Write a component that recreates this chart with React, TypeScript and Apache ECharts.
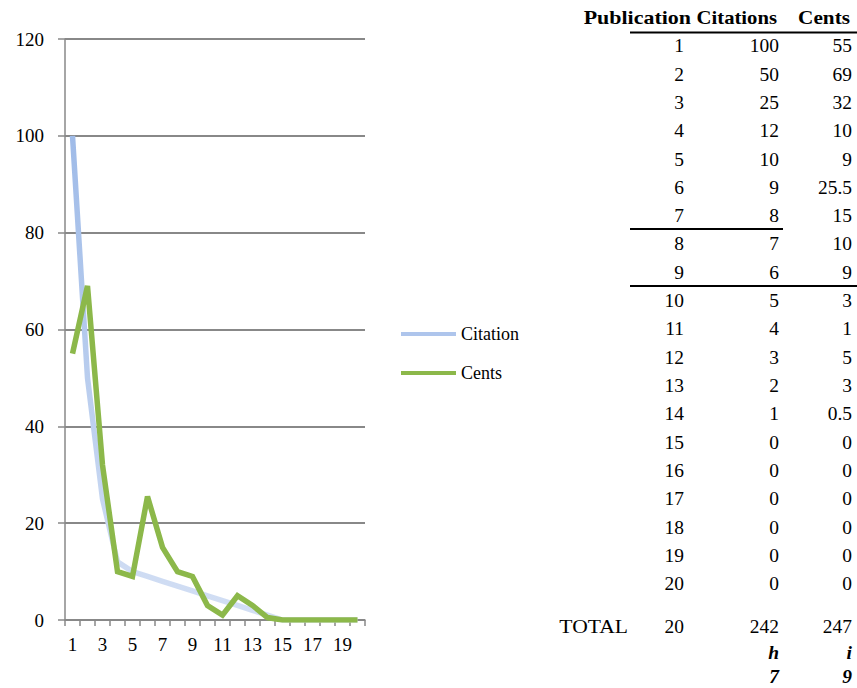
import React, { useEffect, useRef } from "react";
import * as echarts from "echarts";

const publications = ["1","2","3","4","5","6","7","8","9","10","11","12","13","14","15","16","17","18","19","20"];
const citations = [100, 50, 25, 12, 10, 9, 8, 7, 6, 5, 4, 3, 2, 1, 0, 0, 0, 0, 0, 0];
const cents = [55, 69, 32, 10, 9, 25.5, 15, 10, 9, 3, 1, 5, 3, 0.5, 0, 0, 0, 0, 0, 0];
const tableHeaders = ["Publication", "Citations", "Cents"];
const totals = ["TOTAL", "20", "242", "247"];
const hiLetters = ["h", "i"];
const hiValues = ["7", "9"];

const SERIF = "'Liberation Serif', 'Times New Roman', serif";

export default function App() {
  const ref = useRef<HTMLDivElement>(null);
  useEffect(() => {
    if (!ref.current) return;
    const chart = echarts.init(ref.current, null, { renderer: "svg" });

    const colRight = [684, 779, 852];
    const headerRight = [691, 777, 850];
    const headerScale = [1.22, 1.15, 1.18];
    const rowY0 = 46;
    const rowStep = 28.32;
    const NUM_SCALE = 1.08;
    const plain = "normal 18px " + SERIF;
    const bold = "bold 18px " + SERIF;
    const boldItalic = "italic bold 18px " + SERIF;
    const txt = (text: string, x: number, y: number, sx: number, font: string) => ({
      type: "text", x, y, scaleX: sx,
      style: { text, font, fill: "#000", align: "right", verticalAlign: "middle" },
    });
    const graphics: any[] = [];
    tableHeaders.forEach((h, i) => graphics.push(txt(h, headerRight[i], 18, headerScale[i], bold)));
    publications.forEach((p, r) => {
      const y = rowY0 + r * rowStep;
      const vals = [p, String(citations[r]), String(cents[r])];
      vals.forEach((v, c) => graphics.push(txt(v, colRight[c], y, NUM_SCALE, plain)));
    });
    graphics.push(txt(totals[0], 628, 627, 1.2, plain));
    totals.slice(1).forEach((t, c) => graphics.push(txt(t, colRight[c], 627, NUM_SCALE, plain)));
    hiLetters.forEach((t, c) => graphics.push(txt(t, colRight[c + 1], 653, NUM_SCALE, boldItalic)));
    hiValues.forEach((t, c) => graphics.push(txt(t, colRight[c + 1], 677, NUM_SCALE, boldItalic)));
    // table rules
    graphics.push({ type: "line", shape: { x1: 630, y1: 32.5, x2: 857, y2: 32.5 }, style: { stroke: "#000", lineWidth: 2 } });
    graphics.push({ type: "line", shape: { x1: 630, y1: 229, x2: 783, y2: 229 }, style: { stroke: "#000", lineWidth: 2 } });
    graphics.push({ type: "line", shape: { x1: 630, y1: 286, x2: 857, y2: 286 }, style: { stroke: "#000", lineWidth: 2 } });

    chart.setOption({
      animation: false,
      backgroundColor: "#fff",
      textStyle: { fontFamily: SERIF },
      grid: { left: 65, right: 492, top: 39, bottom: 68 },
      legend: {
        orient: "vertical",
        left: 396,
        top: 320,
        icon: "rect",
        itemWidth: 55,
        itemHeight: 4,
        itemGap: 21,
        textStyle: { fontFamily: SERIF, fontSize: 18, color: "#000" },
        data: ["Citation", "Cents"],
      },
      xAxis: {
        type: "category",
        data: publications,
        boundaryGap: true,
        axisLine: { lineStyle: { color: "#888", width: 1.5 } },
        axisTick: { show: true, interval: 0, length: 6, lineStyle: { color: "#888", width: 1.5 } },
        axisLabel: { interval: 1, color: "#000", fontSize: 19, fontFamily: SERIF, margin: 15 },
      },
      yAxis: {
        type: "value",
        min: 0,
        max: 120,
        interval: 20,
        axisLine: { show: true, lineStyle: { color: "#888", width: 1.5 } },
        axisTick: { show: true, length: 7, lineStyle: { color: "#888", width: 1.5 } },
        axisLabel: { color: "#000", fontSize: 19, fontFamily: SERIF, margin: 21 },
        splitLine: { show: true, lineStyle: { color: "#888", width: 2 } },
      },
      series: [
        {
          name: "Citation",
          type: "line",
          data: citations,
          symbol: "none",
          itemStyle: { color: "#aec5ec" },
          lineStyle: {
            width: 5.5,
            color: new echarts.graphic.LinearGradient(0, 0, 0, 1, [
              { offset: 0, color: "#9fbbe8" },
              { offset: 1, color: "#d3dff4" },
            ]),
          },
          z: 2,
        },
        {
          name: "Cents",
          type: "line",
          data: cents,
          symbol: "none",
          itemStyle: { color: "#8cb84a" },
          lineStyle: { width: 5.5, color: "#8cb84a", join: "miter" },
          z: 3,
        },
      ],
      graphic: graphics,
    });
    return () => chart.dispose();
  }, []);
  return (
    <div
      ref={ref}
      style={{ position: "absolute", left: 0, top: 0, width: 857, height: 688, background: "#fff" }}
    />
  );
}
